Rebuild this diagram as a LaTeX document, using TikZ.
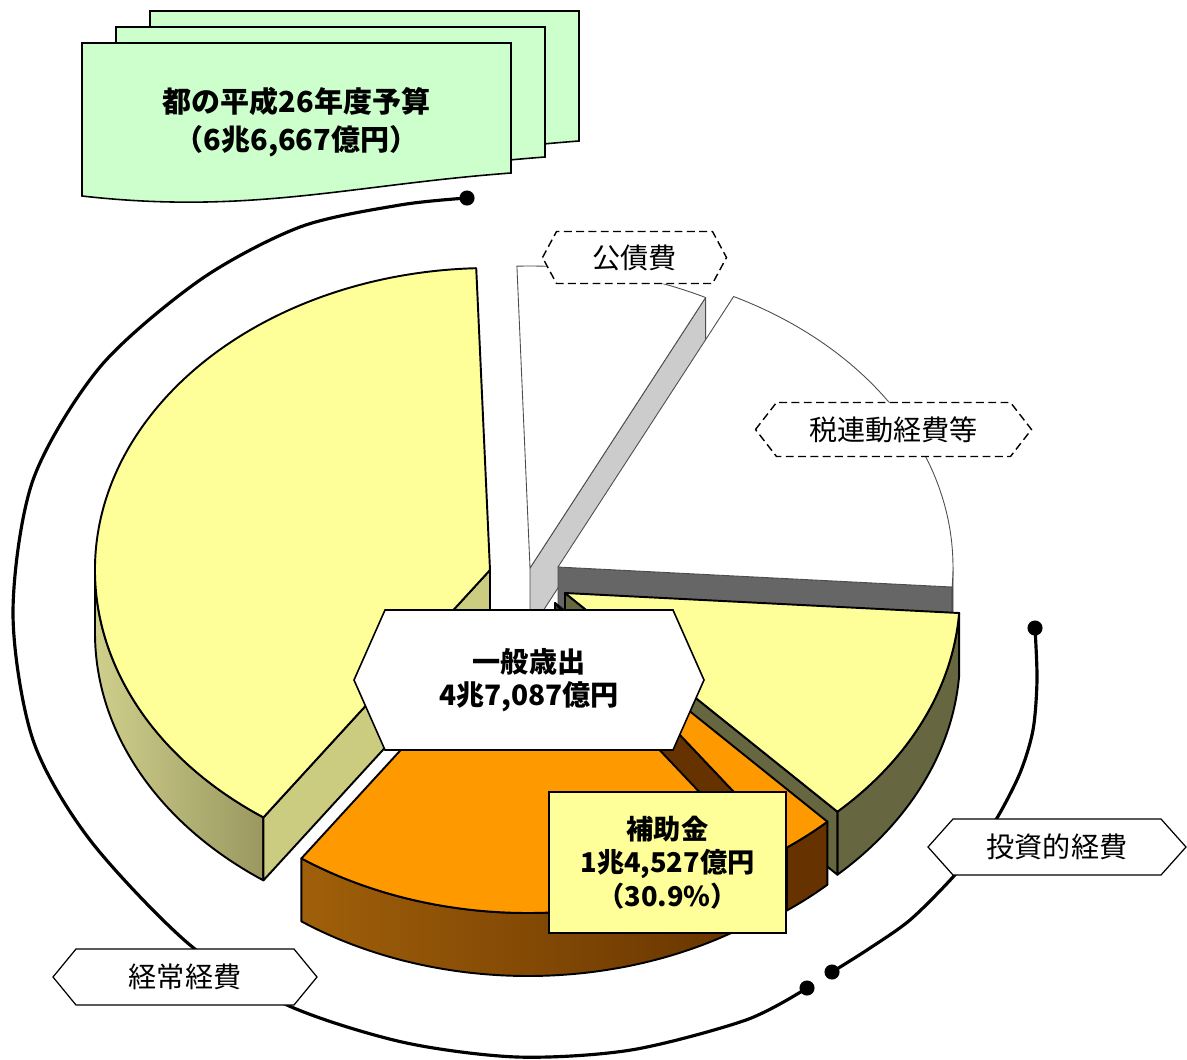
\documentclass[tikz,border=0pt]{standalone}
\usepackage{fontspec}
\setmainfont{Noto Sans CJK JP}
\usetikzlibrary{calc}

\definecolor{sheetgreen}{HTML}{CCFFCC}
\definecolor{pieyellow}{HTML}{FFFF99}
\definecolor{khakiface}{HTML}{CCCC80}
\definecolor{khakilight}{HTML}{CFCF8C}
\definecolor{khakidark}{HTML}{9A9860}
\definecolor{oliveside}{HTML}{666640}
\definecolor{pieorange}{HTML}{FF9900}
\definecolor{piebrown}{HTML}{663300}
\definecolor{piebrownlight}{HTML}{A0600A}
\definecolor{greyface}{HTML}{CCCCCC}
\definecolor{darkface}{HTML}{666666}

\def\hexbox[#1](#2)(#3)(#4:#5:#6)#7{%
  \draw[#1] ($(#3)+(-#4,0)$) -- ++(#6,-#5) -- ++({2*#4-2*#6},0) -- ++(#6,#5)
    -- ++(-#6,#5) -- ++({-2*#4+2*#6},0) -- cycle;
  \node[lbl] (#2) at (#3) {#7};}

\tikzset{
  rim/.style={x radius=395, y radius=302},
  slice/.style={draw=black, line width=1.1pt, line join=round},
  wslice/.style={draw=black!70, line width=0.5pt, line join=round},
  sheet/.style={draw=black, line width=0.9pt, fill=sheetgreen},
  hexline/.style={draw=black, line width=0.7pt, fill=white},
  hexdash/.style={draw=black, line width=0.8pt, fill=white, dash pattern=on 4.5pt off 2.5pt},
  lbl/.style={inner sep=0pt, align=center, font=\fontsize{16}{19}\selectfont},
  lead/.style={line width=1.8pt}
}

\begin{document}
\begin{tikzpicture}[x=0.02cm, y=-0.02cm]
		\useasboundingbox (0,0) rectangle (1187,1059);
		
		%%%%% BUDGET SHEETS %%%%%
		\foreach \dx/\dy in {68/-32, 34/-16, 0/0}
		  \draw[sheet, shift={(\dx,\dy)}] (82,43) -- (511,43) -- (511,173)
		    .. controls (350,185) and (250,215) .. (82,196) -- cycle;
		\node[lbl, font=\bfseries\fontsize{16.5}{21.5}\selectfont] (budget) at (296.5,122) {都の平成26年度予算\\（6兆6,667億円）};
		
		%%%%% PIE %%%%%
		\coordinate (cB) at (530,568);
		\coordinate (cC) at (558,567);
		\coordinate (cD) at (565,593);
		\coordinate (cE2) at (555,603);
		\coordinate (cE1) at (528,611);
		\coordinate (cA) at (490,570);
		
		% kosaihi
		\filldraw[wslice, fill=greyface] (cB) -- ++(-63.6:395 and 302) -- ++(0,63) -- ($(cB)+(0,63)$) -- cycle;
		\filldraw[wslice, fill=white] (cB) -- ++(-91.9:395 and 302) arc[rim, start angle=-91.9, end angle=-63.6] -- cycle;
		
		% zeirendo
		\filldraw[wslice, fill=darkface] (cC) -- ++(3.8:395 and 302) -- ++(0,63) -- ($(cC)+(0,63)$) -- cycle;
		\filldraw[wslice, fill=darkface] ($(cC)+(0:395 and 302)$) arc[rim, start angle=0, end angle=3.8] -- ++(0,63) arc[rim, start angle=3.8, end angle=0] -- cycle;
		\filldraw[wslice, fill=white] (cC) -- ++(-63.6:395 and 302) arc[rim, start angle=-63.6, end angle=3.8] -- cycle;
		
		% toshi yellow
		\filldraw[slice, fill=oliveside] ($(cD)+(3.8:395 and 302)$) arc[rim, start angle=3.8, end angle=46.4] -- ++(0,63) arc[rim, start angle=46.4, end angle=3.8] -- cycle;
		\filldraw[slice, fill=oliveside] (cD) -- ++(46.4:395 and 302) -- ++(0,63) -- ($(cD)+(0,63)$) -- cycle;
		\filldraw[slice, fill=pieyellow] (cD) -- ++(3.8:395 and 302) arc[rim, start angle=3.8, end angle=46.4] -- cycle;
		
		% toshi orange
		\filldraw[slice, fill=piebrown] ($(cE2)+(46.4:395 and 302)$) arc[rim, start angle=46.4, end angle=54.1] -- ++(0,63) arc[rim, start angle=54.1, end angle=46.4] -- cycle;
		\filldraw[slice, fill=piebrown] (cE2) -- ++(54.1:395 and 302) -- ++(0,63) -- ($(cE2)+(0,63)$) -- cycle;
		\filldraw[slice, fill=pieorange] (cE2) -- ++(46.4:395 and 302) arc[rim, start angle=46.4, end angle=54.1] -- cycle;
		
		% keijo orange
		\shadedraw[slice, left color=piebrownlight, right color=piebrown] ($(cE1)+(54.1:395 and 302)$) arc[rim, start angle=54.1, end angle=125] -- ++(0,63) arc[rim, start angle=125, end angle=54.1] -- cycle;
		\filldraw[slice, fill=pieorange] (cE1) -- ++(54.1:395 and 302) arc[rim, start angle=54.1, end angle=125] -- cycle;
		
		% keijo yellow
		\shadedraw[slice, left color=khakilight, right color=khakidark] ($(cA)+(125:395 and 302)$) arc[rim, start angle=125, end angle=180] -- ++(0,63) arc[rim, start angle=180, end angle=125] -- cycle;
		\filldraw[slice, fill=khakiface] (cA) -- ++(125:395 and 302) -- ++(0,63) -- ($(cA)+(0,63)$) -- cycle;
		\filldraw[slice, fill=pieyellow] (cA) -- ++(125:395 and 302) arc[rim, start angle=125, end angle=268] -- cycle;
		
		%%%%% LEADERS %%%%%
		\coordinate (dotK1) at (467,198);
		\coordinate (dotK2) at (807,988);
		\coordinate (dotT1) at (1035,628);
		\coordinate (dotT2) at (832,972);
		\draw[lead] plot[smooth] coordinates {(dotK1) (400,205) (300,227) (200,280) (100,367) (33,480) (13,613) (33,740) (90,840) (190,945) (287,1005) (402,1042) (517,1057) (631,1050) (746,1020) (dotK2)};
		\draw[lead] plot[smooth] coordinates {(dotT1) (1037,680) (1033,730) (1020,773) (997,818) (975,848) (953,877) (910,920) (867,950) (dotT2)};
		\foreach \d in {dotK1,dotK2,dotT1,dotT2}
		  \fill (\d) circle[radius=4.3pt];
		
		%%%%% LABELS %%%%%
		\hexbox[hexline, line width=0.9pt](total)(529,680)(175:70:31){\bfseries 一般歳出\\\bfseries 4兆7,087億円}
		\node[lbl, draw, fill=pieyellow, line width=0.8pt, minimum width=4.74cm, minimum height=2.82cm, font=\bfseries\fontsize{15.5}{19}\selectfont] (hojo) at (667.5,862.5) {補助金\\1兆4,527億円\\（30.9\%）};
		\hexbox[hexdash](kosai)(634.5,257.5)(92:26:14){公債費}
		\hexbox[hexdash](zei)(893.5,429.5)(138:27:21){税連動経費等}
		\hexbox[hexline](keijo)(185,977)(132:28:23){経常経費}
		\hexbox[hexline](toshi)(1057,847)(129:28:25){投資的経費}
		
\end{tikzpicture}
\end{document}
